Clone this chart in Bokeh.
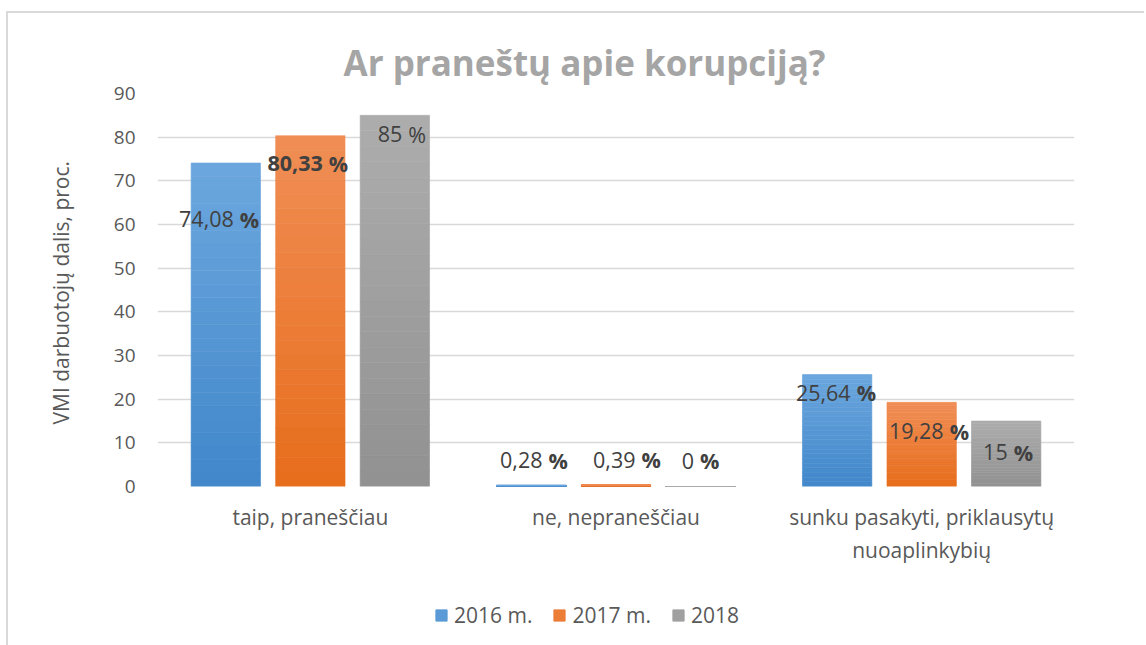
from bokeh.plotting import figure
from bokeh.layouts import column
from bokeh.models import (FactorRange, Range1d, Legend, LegendItem,
                          ColumnDataSource, FixedTicker, LinearAxis)
from bokeh.transform import dodge
from bokeh.core.properties import value
from bokeh.embed import file_html
from bokeh.resources import INLINE

# ---------------- data ----------------
categories = ["taip, praneščiau", "ne, nepraneščiau",
              "sunku pasakyti, priklausytų\nnuoaplinkybių"]
series_names = ["2016 m.", "2017 m.", "2018"]
values_2016 = [74.08, 0.28, 25.64]
values_2017 = [80.33, 0.39, 19.28]
values_2018 = [85, 0, 15]
y_ticks = [0, 10, 20, 30, 40, 50, 60, 70, 80, 90]
title_text = "Ar praneštų apie korupciją?"
y_label = "VMI darbuotojų  dalis, proc."

# ---------------- styling ----------------
FONT = "Open Sans"
series_values = [values_2016, values_2017, values_2018]
top_colors = [(0x6c, 0xa7, 0xde), (0xf0, 0x8e, 0x56), (0xad, 0xad, 0xad)]
bot_colors = [(0x41, 0x87, 0xca), (0xe7, 0x6d, 0x1b), (0x91, 0x91, 0x91)]
legend_colors = ["#5a9ad6", "#ec7d37", "#a0a0a0"]
dodges = [-0.2765, 0.0, 0.2765]
BAR_W = 0.227
N_SLICES = 24

# label placement (pixels): y offset of label centre from bar top (down +),
# x offset of the gap between number and "%" from the bar centre
label_dy = [[56, -25, 18], [28, -25, 29], [19, -26, 31]]
label_dx = [[11, 14, 16.5], [15.5, 22.5, 25], [10.5, -3.5, 4.5]]
num_bold = [[False, False, False], [True, False, False], [False, False, False]]
pct_bold = [[True, True, True], [True, True, True], [False, True, True]]


def fmt(v):
    s = f"{v:.2f}".rstrip("0").rstrip(".")
    return s.replace(".", ",")


def hexc(c):
    return "#%02x%02x%02x" % tuple(int(round(x)) for x in c)


p = figure(x_range=FactorRange(*categories, range_padding=0),
           y_range=Range1d(0, 90),
           width=1136, height=580,
           output_backend="svg", toolbar_location=None,
           min_border_left=149, min_border_right=70,
           min_border_top=80, min_border_bottom=107)
p.outline_line_color = None
p.background_fill_color = "white"
p.border_fill_color = "white"

# title
p.title.text = title_text
p.title.align = "left"
p.title.offset = 186
p.title.text_font = FONT
p.title.text_font_size = "35px"
p.title.text_font_style = "bold"
p.title.text_color = "#a5a5a5"
p.title.standoff = 15

# grid
p.xgrid.grid_line_color = None
p.ygrid.grid_line_color = "#d9d9d9"
p.ygrid.grid_line_width = 1.5
p.yaxis.ticker = FixedTicker(ticks=y_ticks)

# axes
for ax in (p.xaxis[0], p.yaxis[0]):
    ax.axis_line_color = None
    ax.major_tick_line_color = None
    ax.minor_tick_line_color = None
    ax.major_tick_out = 0
    ax.major_tick_in = 0
    ax.major_label_text_font = FONT
    ax.major_label_text_color = "#595959"
p.yaxis.major_label_text_font_size = "19px"
p.yaxis.major_label_standoff = 22
p.xaxis.major_label_text_font_size = "21px"
p.xaxis.major_label_standoff = 16

# y-axis title on a label-only axis, its extent set so the title sits a
# little below the middle of the value axis, as in the reference
title_axis = LinearAxis(ticker=FixedTicker(ticks=[]), bounds=(0, 77),
                        axis_label=y_label)
title_axis.axis_line_color = None
title_axis.major_tick_line_color = None
title_axis.minor_tick_line_color = None
title_axis.major_tick_out = 0
title_axis.minor_tick_out = 0
title_axis.major_label_standoff = 0
title_axis.axis_label_text_font = FONT
title_axis.axis_label_text_font_style = "normal"
title_axis.axis_label_text_font_size = "21px"
title_axis.axis_label_text_color = "#595959"
title_axis.axis_label_standoff = 36
p.add_layout(title_axis, "left")

# bars with vertical gradient (slices)
for i, vals in enumerate(series_values):
    for k in range(N_SLICES):
        t = (k + 0.5) / N_SLICES
        col = tuple(bot_colors[i][j] + (top_colors[i][j] - bot_colors[i][j]) * t
                    for j in range(3))
        src = ColumnDataSource(dict(
            x=categories,
            bottom=[v * k / N_SLICES for v in vals],
            top=[v * (k + 1) / N_SLICES for v in vals]))
        p.vbar(x=dodge("x", dodges[i], range=p.x_range), bottom="bottom",
               top="top", width=BAR_W, source=src,
               fill_color=hexc(col), line_color=hexc(col), line_width=0.6)

# data labels
for i, vals in enumerate(series_values):
    src = ColumnDataSource(dict(
        x=categories, y=vals,
        num=[fmt(v) for v in vals],
        pct=["%"] * len(vals),
        num_style=["bold" if b else "normal" for b in num_bold[i]],
        pct_style=["bold" if b else "normal" for b in pct_bold[i]],
        xo_num=[d - 3 for d in label_dx[i]],
        xo_pct=[d + 3 for d in label_dx[i]],
        yo=label_dy[i]))
    xs = dodge("x", dodges[i], range=p.x_range)
    p.text(x=xs, y="y", text="num", source=src, x_offset="xo_num", y_offset="yo",
           text_align="right", text_baseline="middle", text_font=value(FONT),
           text_font_size="21.5px", text_font_style="num_style",
           text_color="#404040")
    p.text(x=xs, y="y", text="pct", source=src, x_offset="xo_pct", y_offset="yo",
           text_align="left", text_baseline="middle", text_font=value(FONT),
           text_font_size="21.5px", text_font_style="pct_style",
           text_color="#404040")

# legend (in its own strip below the chart)
lp = figure(width=1136, height=52, x_range=Range1d(0, 1), y_range=Range1d(0, 1),
            output_backend="svg", toolbar_location=None,
            min_border_left=0, min_border_right=0, min_border_top=0,
            min_border_bottom=0)
lp.axis.visible = False
lp.grid.visible = False
lp.outline_line_color = None
lp.border_fill_color = "white"
items = []
for i, name in enumerate(series_names):
    # one off-screen bar per series, only to supply the legend swatch
    r = lp.vbar(x=[-10], top=[0], bottom=[0], width=0.1,
                fill_color=legend_colors[i], line_color=legend_colors[i])
    items.append(LegendItem(label=name, renderers=[r]))
legend = Legend(items=items, orientation="horizontal",
                location=(277, 16), glyph_width=14, glyph_height=14,
                label_text_font=FONT, label_text_font_size="21px",
                label_text_color="#595959", label_standoff=6, spacing=20,
                padding=0, margin=0, border_line_color=None,
                background_fill_alpha=0, label_height=20)
lp.add_layout(legend, "center")

layout = column(p, lp, spacing=0,
                styles={"border-left": "2px solid #d9d9d9",
                        "border-top": "2px solid #d9d9d9",
                        "margin-top": "11px", "margin-left": "6px"})

open("out.html", "w").write(file_html(layout, INLINE))
